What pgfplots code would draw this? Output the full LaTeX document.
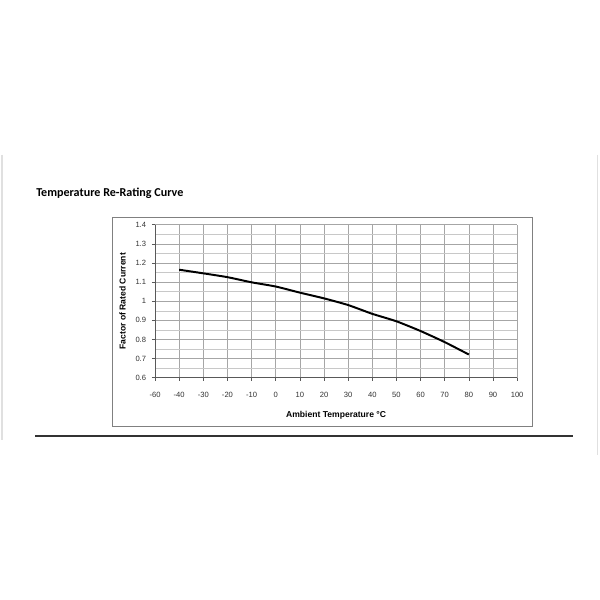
\documentclass[border=0pt]{standalone}
\usepackage{fontspec}
\setmainfont{Liberation Sans}
\newfontfamily\carlito{Carlito}
\usepackage{pgfplots}
\pgfplotsset{compat=1.18}

\definecolor{gridmaj}{HTML}{A6A6A6}
\definecolor{gridmin}{HTML}{C8C8C8}
\definecolor{ticktxt}{HTML}{333333}

\begin{document}
\begin{tikzpicture}
% page frame in pixel units (600 x 600), y measured from the bottom
\begin{scope}[x=0.025cm,y=0.025cm]
  \fill[white] (0,0) rectangle (600,600);
  \draw[black!12, line width=0.8pt] (2,445) -- (2,160);
  \draw[black!12, line width=0.8pt] (597.5,445) -- (597.5,145);
  \node[anchor=base west, inner sep=0pt] at (36,403.7)
    {\carlito\bfseries\fontsize{8.6}{10}\selectfont Temperature Re-Rating Curve};
  \draw[black!80, line width=0.8pt] (35,164) -- (573,164);
  \draw[black!50, line width=0.6pt] (112.7,383) rectangle (532.7,174);
\end{scope}

\begin{axis}[
  at={(3.875cm,5.5575cm)}, anchor=south west,
  scale only axis,
  width=9.05cm, height=3.82cm,
  xmin=-50, xmax=100, ymin=0.6, ymax=1.4,
  xtick={-50,-40,...,100},
  xticklabels={-60,-40,-30,-20,-10,0,10,20,30,40,50,60,70,80,90,100},
  ytick={0.6,0.7,...,1.41},
  yticklabels={0.6,0.7,0.8,0.9,1,1.1,1.2,1.3,1.4},
  minor ytick={0.65,0.75,...,1.36},
  grid=both,
  major grid style={gridmaj, line width=0.5pt},
  minor grid style={gridmin, line width=0.4pt},
  axis line style={black!65, line width=0.5pt},
  axis x line*=bottom, axis y line*=left,
  tick align=outside,
  major tick length=0.08cm, minor tick length=0pt,
  tick style={black!65, line width=0.5pt},
  ticklabel style={font=\fontsize{5.4}{6}\selectfont, text=ticktxt},
  xticklabel style={anchor=center, yshift=-0.34cm},
  yticklabel style={anchor=east, xshift=-0.02cm},
  xlabel={Ambient Temperature °C},
  ylabel={Factor of Rated Current},
  label style={font=\bfseries\fontsize{6.1}{7}\selectfont},
  xlabel style={at={(axis description cs:0.5,0)}, anchor=center, yshift=-0.94cm},
  ylabel style={at={(axis description cs:0,0.5)}, anchor=center, rotate=0},
  every axis y label/.append style={yshift=0.81cm},
  clip=false,
]
\addplot[black, line width=1.4pt, smooth, tension=0.35] coordinates {
  (-40,1.165) (-30,1.146) (-20,1.126) (-10,1.099) (0,1.077)
  (10,1.045) (20,1.015) (30,0.980) (40,0.934) (50,0.895)
  (60,0.844) (70,0.786) (80,0.721)
};
\end{axis}
\end{tikzpicture}
\end{document}
